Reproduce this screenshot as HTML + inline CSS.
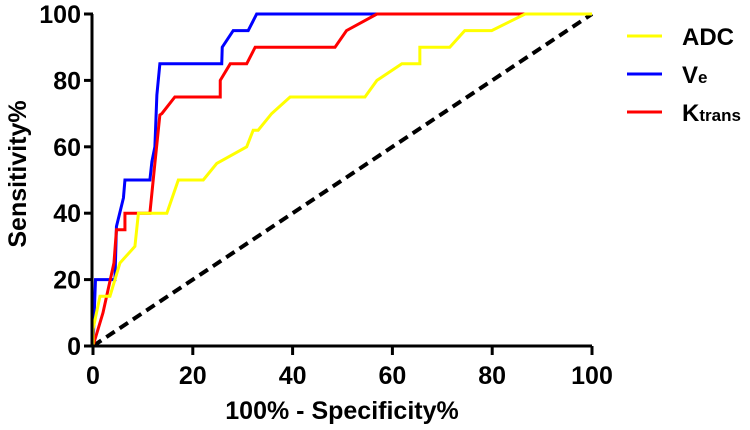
<!DOCTYPE html>
<html><head><meta charset="utf-8"><style>
body{margin:0;background:#fff;width:750px;height:430px;overflow:hidden;position:relative}
svg{display:block;font-family:"Liberation Sans",Arial,sans-serif;font-weight:bold}
</style></head><body>
<svg id="chart" width="750" height="430" viewBox="0 0 750 430"></svg>
<script>
const xTicks=[0,20,40,60,80,100];
const yTicks=[0,20,40,60,80,100];
const veX=[0,0.5,4.4,4.7,6.1,6.4,11.4,11.8,12.4,12.8,13.4,25.8,25.9,28.1,31.1,32.8,100];
const veY=[0,20,20,36,44.6,50,50,55.5,60,75.6,85,85,90,95,95,100,100];
const ktX=[0,2,4.2,4.7,6.4,6.4,11.4,12.4,13.4,13.8,16.4,25.5,25.5,27.5,30.8,32.5,48.5,50.8,56.9,100];
const ktY=[0,10,25,35,35,40,40,55,69.6,70,75,75,80,85,85,90,90,95,100,100];
const adcX=[0,0,1.4,3.4,5.4,8.4,9.1,14.8,17.1,22.1,24.8,30.8,32.1,33.1,35.8,39.5,54.5,56.9,61.9,65.5,65.5,71.5,74.5,79.9,86.6,100];
const adcY=[0,5,15,15,25,30,40,40,50,50,55,60,65,65,70,75,75,80,85,85,90,90,95,95,100,100];
const X0=93,X1=592,Y0=346,Y1=14;
const sx=v=>X0+(X1-X0)*v/100, sy=v=>Y0-(Y0-Y1)*v/100;
const svg=document.getElementById('chart');
const NS="http://www.w3.org/2000/svg";
function mk(tag,attrs,parent){const e=document.createElementNS(NS,tag);for(const k in attrs)e.setAttribute(k,attrs[k]);(parent||svg).appendChild(e);return e;}
let d=mk('line',{x1:sx(0),y1:sy(0),x2:sx(100),y2:sy(100),stroke:'#000','stroke-width':4,'stroke-dasharray':'10 6'});


function curve(xs,ys,col,name){
  const p=mk('polyline',{points:xs.map((x,i)=>sx(x)+','+sy(ys[i])).join(' '),fill:'none',stroke:col,'stroke-width':3,'stroke-linejoin':'miter'});
  
  
}
curve(veX,veY,'#0000ff','ve-curve');
curve(ktX,ktY,'#ff0000','ktrans-curve');
curve(adcX,adcY,'#ffff00','adc-curve');
let ax=mk('path',{d:`M${X0-1},${Y1} V${Y0} H${X1}`,stroke:'#000','stroke-width':3,fill:'none'});


xTicks.forEach(t=>{
  mk('line',{x1:sx(t),x2:sx(t),y1:Y0,y2:Y0+9,stroke:'#000','stroke-width':3});
  const tx=mk('text',{x:sx(t),y:384,'text-anchor':'middle','font-size':25});
  tx.textContent=t;
  
  
});
yTicks.forEach(t=>{
  mk('line',{x1:X0-9,x2:X0,y1:sy(t),y2:sy(t),stroke:'#000','stroke-width':3});
  const tx=mk('text',{x:X0-12,y:sy(t)+9,'text-anchor':'end','font-size':25});
  tx.textContent=t;
  
  
});
</script>
<svg style="position:absolute;left:0;top:0" width="750" height="430" font-family="Liberation Sans, Arial, sans-serif" font-weight="bold">
<text x="342" y="419" text-anchor="middle" font-size="25">100% - Specificity%</text>
<text transform="translate(26,174) rotate(-90)" text-anchor="middle" font-size="25">Sensitivity%</text>
<g>
<line x1="627" x2="662" y1="36" y2="36" stroke="#ffff00" stroke-width="3"/>
<text x="682" y="45" font-size="24">ADC</text>
<line x1="627" x2="662" y1="74" y2="74" stroke="#0000ff" stroke-width="3"/>
<text x="682" y="83" font-size="24">V<tspan font-size="17">e</tspan></text>
<line x1="627" x2="662" y1="112" y2="112" stroke="#ff0000" stroke-width="3"/>
<text x="682" y="121" font-size="24">K<tspan font-size="17">trans</tspan></text>
</g>
</svg>
</body></html>
